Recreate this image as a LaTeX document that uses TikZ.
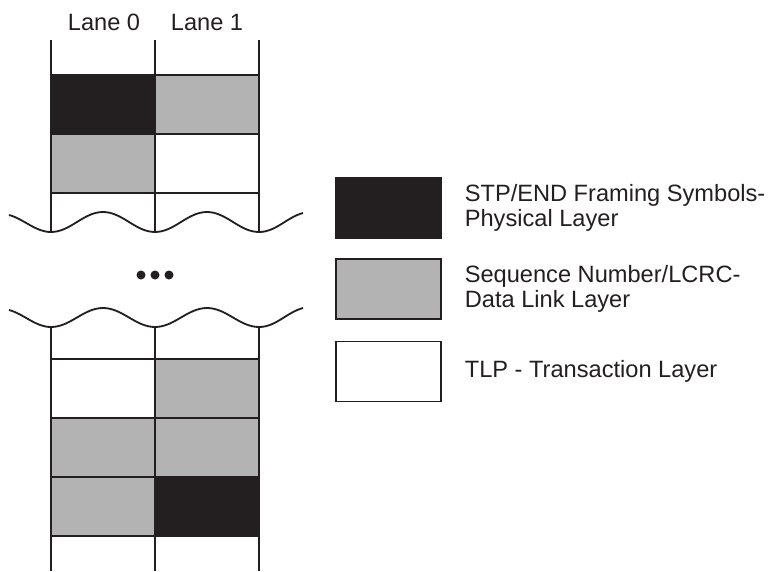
\documentclass[tikz,border=0pt]{standalone}
\usepackage{fontspec}
\setmainfont{Liberation Sans}
\usepackage{xcolor}
\usepackage{tikz}
\usetikzlibrary{positioning}
\definecolor{symblack}{HTML}{231F20}
\definecolor{symgray}{HTML}{B3B3B3}

\begin{document}
\begin{tikzpicture}[line width=1.3pt, draw=symblack,
        every node/.style={font=\fontsize{16.8}{17.8}\selectfont, text=symblack},
        cell/.style={draw=symblack, fill=#1, minimum width=2.6cm,
                     minimum height=1.475cm, inner sep=0pt, outer sep=0pt},
        keybox/.style={draw=symblack, fill=#1, minimum width=2.625cm,
                       minimum height=1.5cm, inner sep=0pt},
        keytext/.style={right=0.55cm of #1, align=left, inner sep=0pt},
        wave/.style={line width=1.3pt, looseness=0.9}
    ]
        \useasboundingbox (0,0) rectangle (19.325,14.275);

        % lane headers
        \node[anchor=base] (lane0) at (2.6,13.525)   {Lane 0};
        \node[anchor=base] (lane1) at (5.175,13.525) {Lane 1};

        % upper part
        \foreach \x in {1.275,3.875,6.475}
            \draw (\x,13.275) -- (\x,8.475);
        \node[cell=symblack] (u00) at (2.575,11.6625) {};
        \node[cell=symgray]  (u01) at (5.175,11.6625) {};
        \node[cell=symgray]  (u10) at (2.575,10.1875) {};
        \node[cell=white]    (u11) at (5.175,10.1875) {};
        \draw[wave] (0.225,8.9) to[out=-15,in=180] (1.275,8.475)
            to[out=0,in=180] (2.575,8.975) to[out=0,in=180] (3.875,8.475)
            to[out=0,in=180] (5.175,8.975) to[out=0,in=180] (6.475,8.475)
            to[out=0,in=195] (7.575,8.95);

        % gap
        \foreach \x in {3.525,3.875,4.225}
            \fill[symblack] (\x,7.4) circle (0.1125);

        % lower part
        \draw[wave] (0.225,6.525) to[out=-15,in=180] (1.275,6.1)
            to[out=0,in=180] (2.575,6.575) to[out=0,in=180] (3.875,6.1)
            to[out=0,in=180] (5.175,6.575) to[out=0,in=180] (6.475,6.1)
            to[out=0,in=195] (7.575,6.575);
        \foreach \x in {1.275,3.875,6.475}
            \draw (\x,6.1) -- (\x,0);
        \node[cell=white]    (l00) at (2.575,4.5625) {};
        \node[cell=symgray]  (l01) at (5.175,4.5625) {};
        \node[cell=symgray]  (l10) at (2.575,3.0875) {};
        \node[cell=symgray]  (l11) at (5.175,3.0875) {};
        \node[cell=symgray]  (l20) at (2.575,1.6125) {};
        \node[cell=symblack] (l21) at (5.175,1.6125) {};

        % legend
        \node[keybox=symblack] (kphy) at (9.7125,9.075) {};
        \node[keybox=symgray]  (kdll) at (9.7125,7.05)  {};
        \node[keybox=white]    (ktlp) at (9.7125,4.9875) {};
        \node[keytext=kphy] (tphy) {STP/END Framing Symbols-\\Physical Layer};
        \node[keytext=kdll] (tdll) {Sequence Number/LCRC-\\Data Link Layer};
        \node[keytext=ktlp] (ttlp) {TLP - Transaction Layer};
\end{tikzpicture}
\end{document}
